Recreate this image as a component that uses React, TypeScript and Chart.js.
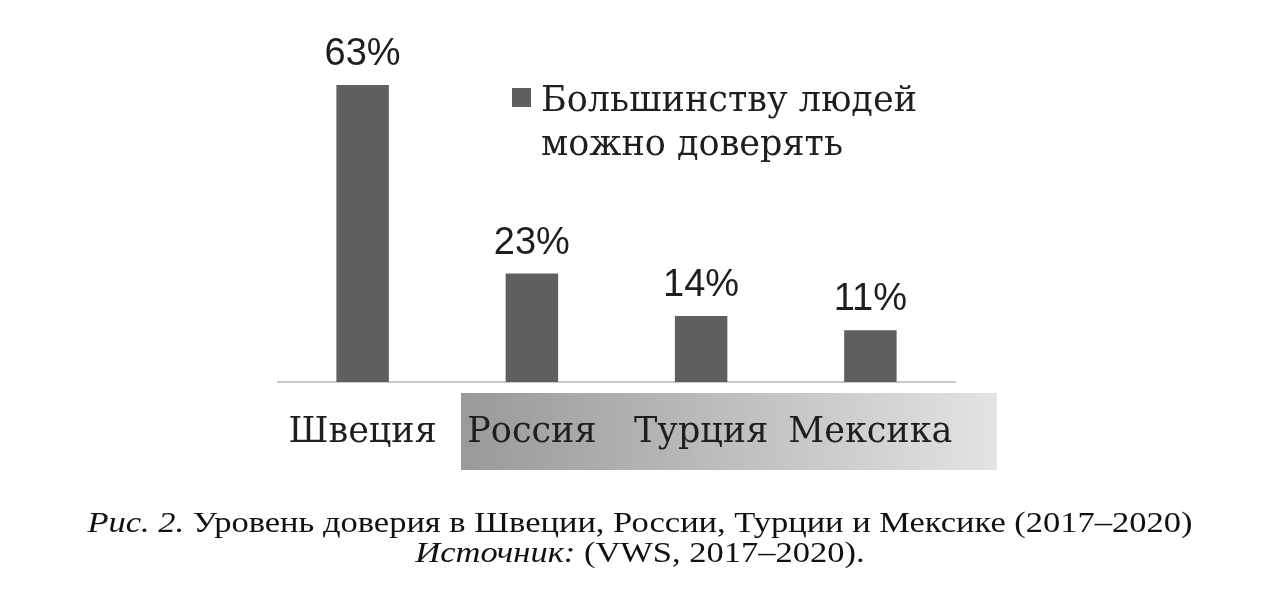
import { useEffect, useRef } from "react";
import Chart from "chart.js/auto";

const countries = ["Швеция", "Россия", "Турция", "Мексика"];
const trustShare = [63, 23, 14, 11];
const seriesLabel = ["Большинству людей", "можно доверять"];

const BAR_COLOR = "#5f5f5f";

const valueLabels = {
    id: "valueLabels",
    afterDatasetsDraw(chart: Chart) {
        const ctx = chart.ctx;
        const meta = chart.getDatasetMeta(0);
        ctx.save();
        ctx.font = "38px 'Liberation Sans', Arial, sans-serif";
        ctx.fillStyle = "#1e1e1e";
        ctx.textAlign = "center";
        ctx.textBaseline = "alphabetic";
        meta.data.forEach((bar: any, i: number) => {
            ctx.fillText(trustShare[i] + "%", bar.x, bar.y - 20);
        });
        ctx.restore();
    },
};

export default function App() {
    const canvasRef = useRef<HTMLCanvasElement | null>(null);

    useEffect(() => {
        if (!canvasRef.current) {
            return;
        }

        const chart = new Chart(canvasRef.current, {
            type: "bar",
            data: {
                labels: countries,
                datasets: [
                    {
                        label: seriesLabel.join(" "),
                        data: trustShare,
                        backgroundColor: BAR_COLOR,
                        barPercentage: 0.62,
                        categoryPercentage: 0.5,
                    },
                ],
            },
            options: {
                responsive: false,
                animation: false,
                layout: {
                    padding: { left: 278, right: 325, top: 52, bottom: 0 },
                },
                plugins: {
                    legend: { display: false },
                    tooltip: { enabled: false },
                },
                scales: {
                    y: {
                        display: false,
                        min: 0,
                        max: 70,
                    },
                    x: {
                        grid: { display: false, drawTicks: false },
                        border: { display: true, color: "#c9c9c9", width: 2 },
                        ticks: {
                            color: "#1e1e1e",
                            padding: 30,
                            autoSkip: false,
                            maxRotation: 0,
                            minRotation: 0,
                            font: { family: "'DejaVu Serif', serif", size: 35 },
                        },
                    },
                },
            },
            plugins: [valueLabels],
        });

        return () => chart.destroy();
    }, []);

    return (
        <div style={{ position: "fixed", left: 0, top: 0, width: 1280, height: 612, background: "#fff" }}>
            <div
                style={{
                    position: "absolute",
                    left: 461,
                    top: 393,
                    width: 536,
                    height: 77,
                    background: "linear-gradient(to right, #999999, #e3e3e3)",
                }}
            />
            <canvas
                ref={canvasRef}
                width={1280}
                height={484}
                style={{ position: "absolute", left: 0, top: 0, width: 1280, height: 484 }}
            />
            <div
                style={{
                    position: "absolute",
                    left: 512,
                    top: 88,
                    width: 19,
                    height: 19,
                    background: BAR_COLOR,
                }}
            />
            <div
                style={{
                    position: "absolute",
                    left: 541,
                    top: 77,
                    fontFamily: "'DejaVu Serif', serif",
                    fontSize: 35,
                    lineHeight: "44px",
                    color: "#1e1e1e",
                    whiteSpace: "nowrap",
                }}
            >
                {seriesLabel.map((line) => (
                    <div key={line}>{line}</div>
                ))}
            </div>
            <div
                style={{
                    position: "absolute",
                    left: 0,
                    top: 507,
                    width: 1280,
                    textAlign: "center",
                    fontFamily: "'Liberation Serif', 'Times New Roman', serif",
                    fontSize: 30,
                    lineHeight: "30px",
                    color: "#111",
                    whiteSpace: "nowrap",
                    transform: "scaleX(1.15)",
                    transformOrigin: "640px 0",
                }}
            >
                <div>
                    <i>Рис. 2.</i> Уровень доверия в Швеции, России, Турции и Мексике (2017–2020)
                </div>
                <div>
                    <i>Источник:</i> (VWS, 2017–2020).
                </div>
            </div>
        </div>
    );
}
